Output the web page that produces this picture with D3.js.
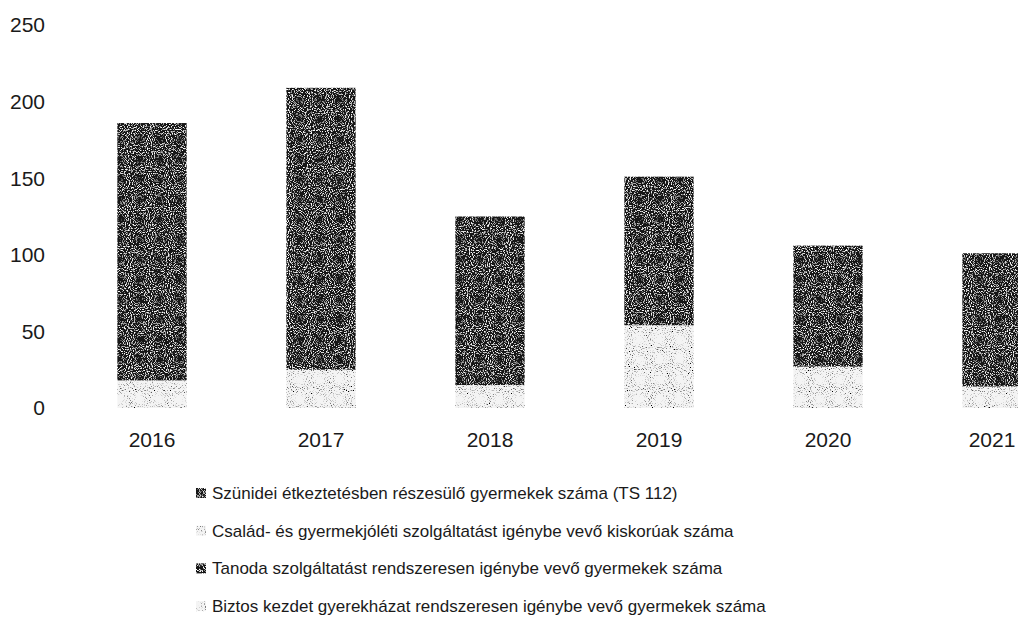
<!DOCTYPE html>
<html>
<head>
<meta charset="utf-8">
<script src="https://cdn.jsdelivr.net/npm/d3@7/dist/d3.min.js"></script>
<style>
    body { margin: 0; background: #fff; }
    svg { display: block; }
    text { font-family: "Liberation Sans", "DejaVu Sans", sans-serif; fill: #1a1a1a; }
</style>
</head>
<body>
<svg id="chart" width="1018" height="642"></svg>
<script>
// données
var years = ["2016", "2017", "2018", "2019", "2020", "2021"];
var szunidei = [168, 184, 110, 97, 79, 87];
var csalad = [18, 25, 15, 54, 27, 14];
var tanoda = [0, 0, 0, 0, 0, 0];
var biztos = [0, 0, 0, 0, 0, 0];
var yTicks = [0, 50, 100, 150, 200, 250];

var series = [
    {key: "csalad", lbl: "Család- és gyermekjóléti szolgáltatást igénybe vevő kiskorúak száma", values: csalad, grain: "light"},
    {key: "szunidei", lbl: "Szünidei étkeztetésben részesülő gyermekek száma (TS 112)", values: szunidei, grain: "dark"},
    {key: "tanoda", lbl: "Tanoda szolgáltatást rendszeresen igénybe vevő gyermekek száma", values: tanoda, grain: "dark"},
    {key: "biztos", lbl: "Biztos kezdet gyerekházat rendszeresen igénybe vevő gyermekek száma", values: biztos, grain: "light"}
];
// ordre de la légende
var legendOrder = ["szunidei", "csalad", "tanoda", "biztos"];

var svg = d3.select("#chart");
var W = +svg.attr("width");

// table pour d3.stack
var table = years.map(function (y, i) {
    var row = {year: y};
    series.forEach(function (s) { row[s.key] = s.values[i]; });
    return row;
});
var stacked = d3.stack().keys(series.map(function (s) { return s.key; }))(table);

var x = d3.scaleBand()
    .domain(years)
    .range([67.5, 67.5 + 6 * 169])
    .paddingInner(0.59)
    .paddingOuter(0.295);

var y = d3.scaleLinear()
    .domain([0, 250])
    .range([408, 25]);

// filtres pour imiter le grain du scan
var defs = svg.append("defs");
function addGrain(id, color, a, b, seed) {
    var f = defs.append("filter")
        .attr("id", id)
        .attr("x", 0).attr("y", 0).attr("width", "100%").attr("height", "100%");
    f.append("feTurbulence")
        .attr("type", "fractalNoise")
        .attr("baseFrequency", 0.95)
        .attr("numOctaves", 1)
        .attr("seed", seed)
        .attr("result", "n");
    f.append("feColorMatrix")
        .attr("in", "n")
        .attr("type", "matrix")
        .attr("values", "0 0 0 0 " + color + " 0 0 0 0 " + color + " 0 0 0 0 " + color + " " + a + " 0 0 0 " + b)
        .attr("result", "s");
    f.append("feComposite")
        .attr("in", "s")
        .attr("in2", "SourceGraphic")
        .attr("operator", "atop");
}
addGrain("grainDark", 1, 5, -2.6, 3);
addGrain("grainLight", 0, -5, 2.2, 7);

var fills = {dark: "#161616", light: "#f4f4f4"};

// barres empilées
var layers = svg.append("g").attr("class", "bars")
    .selectAll("g")
    .data(stacked)
    .enter().append("g")
    .attr("fill", function (d, i) { return fills[series[i].grain]; })
    .attr("filter", function (d, i) { return series[i].grain == "dark" ? "url(#grainDark)" : "url(#grainLight)"; });

layers.selectAll("rect")
    .data(function (d) { return d; })
    .enter().append("rect")
    .attr("x", function (d) { return x(d.data.year); })
    .attr("width", x.bandwidth())
    .attr("y", function (d) { return y(d[1]); })
    .attr("height", function (d) { return y(d[0]) - y(d[1]); });

// axe y (texte seulement)
svg.append("g")
    .selectAll("text")
    .data(yTicks)
    .enter().append("text")
    .attr("x", 45)
    .attr("y", function (d) { return y(d); })
    .attr("dy", "0.35em")
    .attr("text-anchor", "end")
    .style("font-size", "21px")
    .text(function (d) { return d; });

// axe x : le dernier libellé est gardé dans la fenêtre
svg.append("g")
    .selectAll("text")
    .data(years)
    .enter().append("text")
    .attr("x", function (d) { return Math.min(x(d) + x.bandwidth() / 2, W - 26); })
    .attr("y", 440)
    .attr("dy", "0.35em")
    .attr("text-anchor", "middle")
    .style("font-size", "21px")
    .text(function (d) { return d; });

// légende
var leg = svg.append("g").attr("class", "legend")
    .selectAll("g")
    .data(legendOrder.map(function (k) { return series.find(function (s) { return s.key == k; }); }))
    .enter().append("g")
    .attr("transform", function (d, i) { return "translate(196," + (493 + i * 37.7) + ")"; });

leg.append("rect")
    .attr("x", 0)
    .attr("y", -5)
    .attr("width", 10)
    .attr("height", 10)
    .attr("fill", function (d) { return fills[d.grain]; })
    .attr("filter", function (d) { return d.grain == "dark" ? "url(#grainDark)" : "url(#grainLight)"; });

leg.append("text")
    .attr("x", 16)
    .attr("y", 0)
    .attr("dy", "0.35em")
    .style("font-size", "17px")
    .text(function (d) { return d.lbl; });
</script>
</body>
</html>
